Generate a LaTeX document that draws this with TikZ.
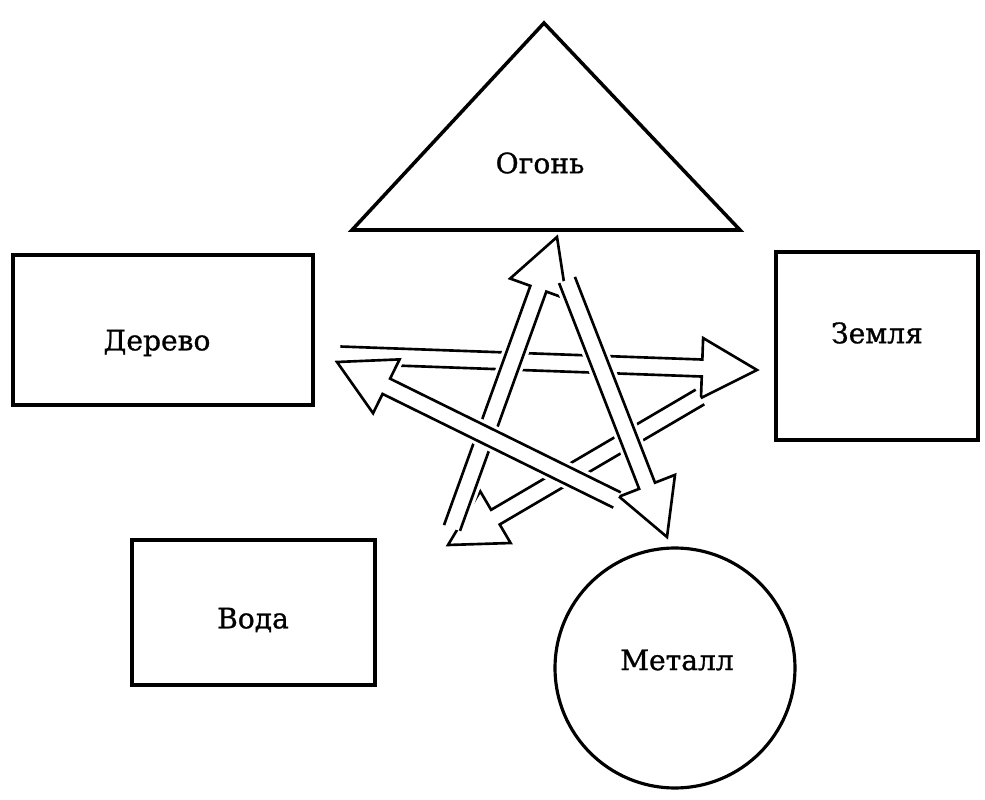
\documentclass[tikz,border=0pt]{standalone}
\usepackage{fontspec}
\setmainfont{DejaVu Serif}
\newfontfamily\labelfont{DejaVu Serif}[FakeBold=1]
\usetikzlibrary{calc}
\tikzset{
  element/.style={draw=black, line width=2.2pt},
  elemlabel/.style={font=\labelfont\fontsize{16}{19}\selectfont, inner sep=0pt},
  hollow/.style={draw=black, fill=white, line width=1.5pt, line join=miter,
    preaction={draw=white, line width=5pt, line join=round}},
}
\newcommand{\shaftw}{0.17cm}
\newcommand{\headw}{0.6cm}
\newcommand{\headl}{1.1cm}
\newcommand{\hollowarrow}[2]{%
  \coordinate (hb) at ($(#2)!\headl!(#1)$);
  \path[hollow] ($(#1)!\shaftw!90:(#2)$) -- ($(hb)!\shaftw!90:(#2)$)
    -- ($(hb)!\headw!90:(#2)$) -- (#2) -- ($(hb)!\headw!-90:(#2)$)
    -- ($(hb)!\shaftw!-90:(#2)$) -- ($(#1)!\shaftw!-90:(#2)$);
}

\begin{document}
\begin{tikzpicture}[x=0.02cm, y=-0.02cm]
    \useasboundingbox (0,0) rectangle (985,800);

    \coordinate (woodout) at (340,355);
    \coordinate (earthin) at (757,370);
    \coordinate (earthout) at (700,397);
    \coordinate (waterin) at (448,545);
    \coordinate (waterout) at (452,528);
    \coordinate (firein) at (557,237);
    \coordinate (fireout) at (567,280);
    \coordinate (metalin) at (667,537);
    \coordinate (metalout) at (617,500);
    \coordinate (woodin) at (337,362);

    \hollowarrow{woodout}{earthin}
    \hollowarrow{earthout}{waterin}
    \hollowarrow{waterout}{firein}
    \hollowarrow{fireout}{metalin}
    \hollowarrow{metalout}{woodin}

    \coordinate (fireleft) at (352,230);
    \coordinate (firetop) at (544,23);
    \coordinate (fireright) at (740,230);
    \draw[element, line width=2pt, line join=miter] (fireleft) -- (firetop) -- (fireright) -- cycle;
    \node[elemlabel] (fire) at (540,163) {Огонь};

    \node[element, minimum width=6cm, minimum height=3cm] (wood) at (163,330) {};
    \node[elemlabel] (woodlbl) at (157,343) {Дерево};

    \node[element, minimum width=4.04cm, minimum height=3.76cm] (earth) at (877,346) {};
    \node[elemlabel] (earthlbl) at (877,333) {Земля};

    \node[element, minimum width=4.86cm, minimum height=2.9cm] (water) at (253.5,612.5) {};
    \node[elemlabel] (waterlbl) at (253,620) {Вода};

    \node[element, circle, line width=1.8pt, minimum size=4.8cm] (metal) at (675,668) {};
    \node[elemlabel] (metallbl) at (677,660) {Металл};
\end{tikzpicture}
\end{document}
